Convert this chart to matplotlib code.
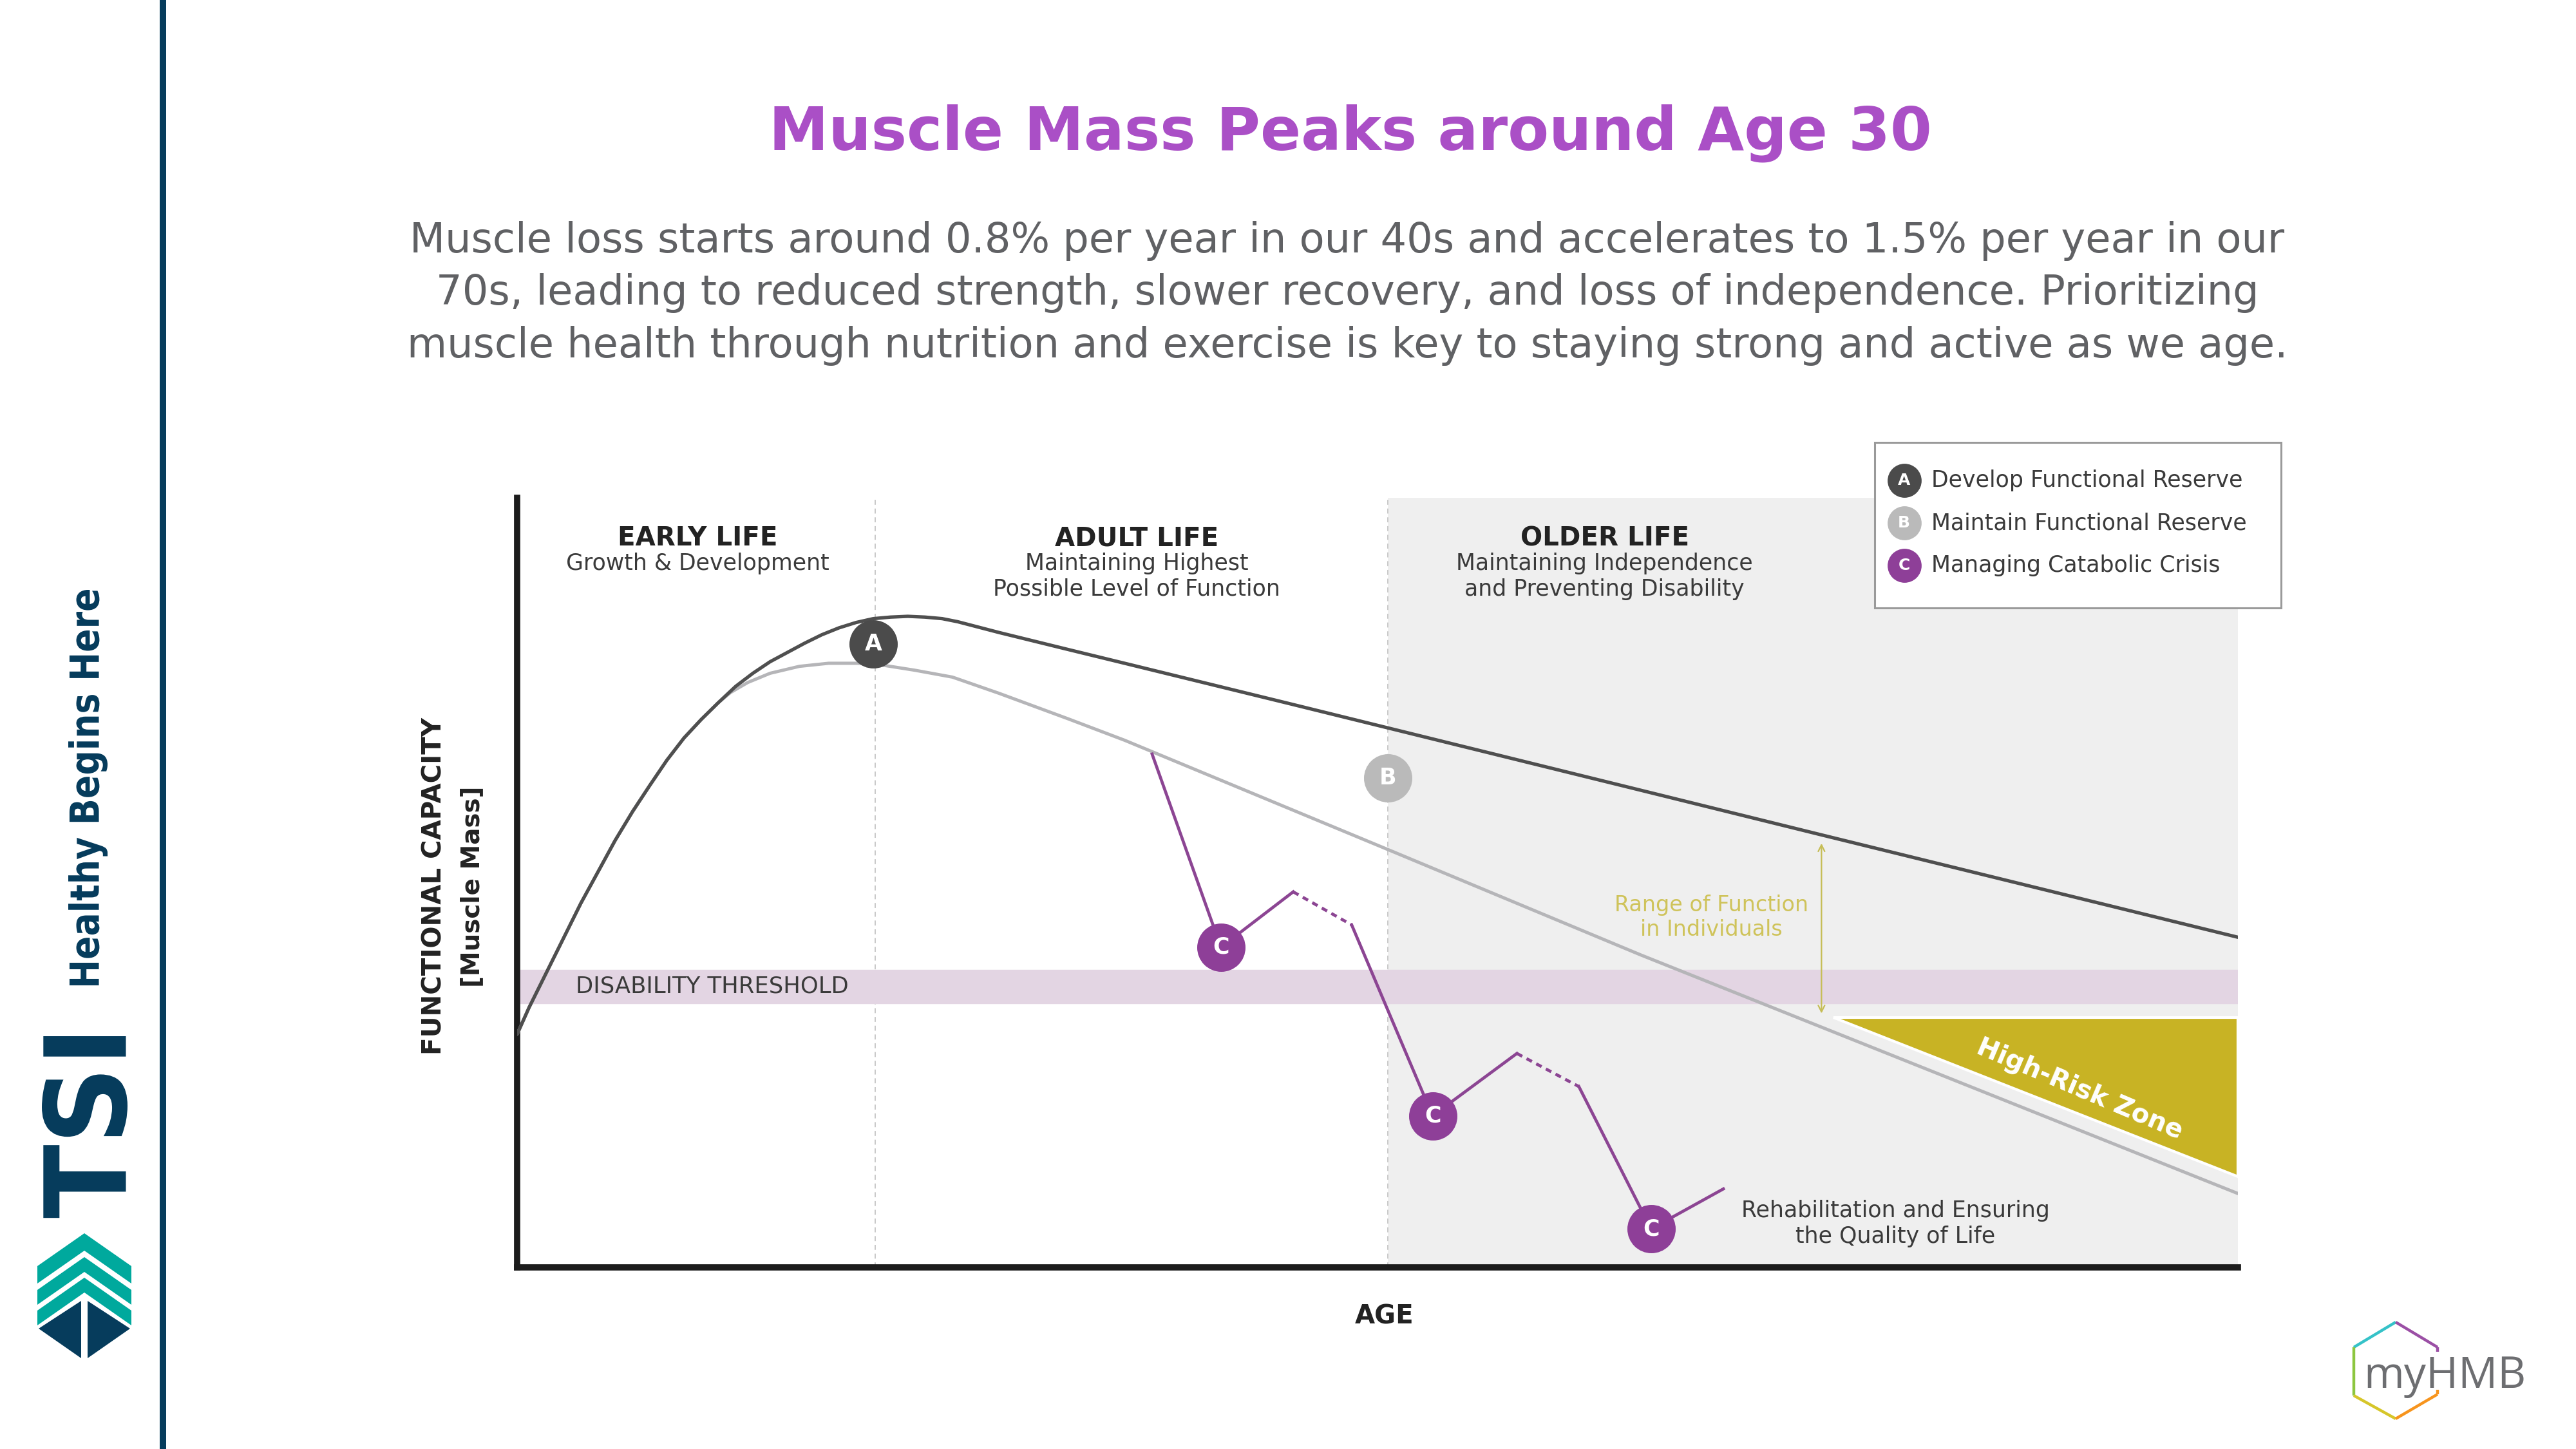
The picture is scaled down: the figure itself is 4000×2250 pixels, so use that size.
import numpy as np
import matplotlib
matplotlib.use("Agg")
import matplotlib.pyplot as plt
from matplotlib.patches import Polygon, Rectangle, PathPatch
from matplotlib.textpath import TextPath
from matplotlib.font_manager import FontProperties
from matplotlib.transforms import Affine2D
from matplotlib import font_manager as fm

# ---------------- data ----------------
title = "Muscle Mass Peaks around Age 30"
subtitle_lines = [
    "Muscle loss starts around 0.8% per year in our 40s and accelerates to 1.5% per year in our",
    "70s, leading to reduced strength, slower recovery, and loss of independence. Prioritizing",
    "muscle health through nutrition and exercise is key to staying strong and active as we age.",
]

stage_names = ["EARLY LIFE", "ADULT LIFE", "OLDER LIFE"]
stage_desc = ["Growth & Development",
              "Maintaining Highest\nPossible Level of Function",
              "Maintaining Independence\nand Preventing Disability"]
stage_center = [10.5, 36.0, 63.2]
stage_bounds = [20.8, 50.6]          # adult life starts, older life starts

# upper curve: develop / maintain functional reserve
reserve_age = [0.0, 0.7, 1.7, 2.7, 3.7, 4.7, 5.7, 6.7, 7.7, 8.7, 9.7, 10.7, 11.7, 12.7,
               13.7, 14.7, 15.7, 16.7, 17.7, 18.7, 19.7, 20.7, 21.7, 22.7, 23.7, 24.7,
               25.6, 28.0, 32.0, 35.3, 44.8, 65.3, 75.8, 100.0]
reserve_cap = [30.3, 33.8, 38.3, 42.8, 47.3, 51.4, 55.5, 59.2, 62.6, 65.9, 68.8, 71.2,
               73.4, 75.5, 77.2, 78.7, 79.9, 81.1, 82.2, 83.1, 83.8, 84.3, 84.5, 84.6,
               84.5, 84.3, 83.9, 82.5, 80.3, 78.5, 73.3, 62.0, 56.2, 42.9]

# lower curve: typical trajectory
typical_age = [0.0, 0.7, 1.7, 2.7, 3.7, 4.7, 5.7, 6.7, 7.7, 8.7, 9.7, 10.7, 11.7, 12.4,
               13.4, 14.7, 16.4, 18.1, 19.8, 21.4, 23.1, 25.3, 28.0, 32.0, 35.3, 50.6,
               65.3, 100.0]
typical_cap = [30.3, 33.8, 38.3, 42.8, 47.3, 51.4, 55.5, 59.2, 62.6, 65.9, 68.8, 71.2,
               73.4, 74.7, 76.0, 77.2, 78.1, 78.5, 78.5, 78.2, 77.6, 76.7, 74.6, 71.3,
               68.5, 54.3, 40.6, 9.6]

# catabolic crisis path
crisis_age = [36.9, 40.9, 45.1, 48.5, 53.2, 58.1, 61.7, 65.9, 70.1]
crisis_cap = [66.7, 41.6, 48.8, 44.5, 19.7, 27.8, 23.5, 5.0, 10.2]
crisis_seg_style = ["solid", "solid", "dotted", "solid", "solid", "dotted", "solid", "solid"]
crisis_event_idx = [1, 4, 7]

marker_A = (20.7, 81.0)
marker_B = (50.6, 63.6)

disability_band = (34.3, 38.7)
high_risk_age = [76.5, 100.0, 100.0]
high_risk_cap = [32.5, 32.5, 11.8]
range_arrow_age = 75.8
range_arrow_cap = (55.1, 33.0)

legend_letters = ["A", "B", "C"]
legend_labels = ["Develop Functional Reserve", "Maintain Functional Reserve", "Managing Catabolic Crisis"]

# ---------------- style ----------------
DARK = "#4f4f4f"
GRAY = "#b5b5b8"
PURPLE = "#8c4593"
PURPLE_C = "#8e3f98"
OLIVE = "#c8b324"
OLIVE_TXT = "#cfc35a"
BAND = "#e3d5e3"
SHADE = "#efefef"
NAVY = "#063c5c"
TEAL = "#00a99d"
TXT = "#3a3a3a"

names = {f.name for f in fm.fontManager.ttflist}
OPENSANS = "Open Sans" if "Open Sans" in names else "DejaVu Sans"
plt.rcParams["font.family"] = ["DejaVu Sans"]

W, H = 4000, 2250
fig = plt.figure(figsize=(40, 22.5), dpi=100)
fig.patch.set_facecolor("white")

# ---------------- chart axes ----------------
ax = fig.add_axes([803 / W, 1 - 1968 / H, (3475 - 803) / W, (1968 - 773) / H])
ax.set_xlim(0, 100)
ax.set_ylim(0, 100)
ax.set_facecolor("white")
for s in ["top", "right"]:
    ax.spines[s].set_visible(False)
for s in ["left", "bottom"]:
    ax.spines[s].set_linewidth(7)
    ax.spines[s].set_color("#1c1c1c")
ax.set_xticks([])
ax.set_yticks([])

# older-life shading
ax.add_patch(Rectangle((stage_bounds[1], 0), 100 - stage_bounds[1], 100, facecolor=SHADE,
                       edgecolor="none", zorder=0))
for b in stage_bounds:
    ax.plot([b, b], [0, 100], color="#c9c9c9", lw=1.4, ls=(0, (4, 3)), zorder=1)

# disability band
ax.axhspan(disability_band[0], disability_band[1], color=BAND, zorder=1)
ax.text(3.4, sum(disability_band) / 2, "DISABILITY THRESHOLD", fontsize=25.5, color=TXT,
        ha="left", va="center", zorder=2)

# high-risk zone
ax.add_patch(Polygon(list(zip(high_risk_age, high_risk_cap)), closed=True, facecolor=OLIVE,
                     edgecolor="white", lw=3, zorder=2))
ax.text(90.8, 23.1, "High-Risk Zone", rotation=-23, rotation_mode="anchor", ha="center",
        va="center", fontsize=29, fontweight="bold", color="white", zorder=6)

# curves
ax.plot(typical_age, typical_cap, color=GRAY, lw=3.6, solid_capstyle="round",
        solid_joinstyle="round", zorder=3)
ax.plot(reserve_age, reserve_cap, color=DARK, lw=3.8, solid_capstyle="round",
        solid_joinstyle="round", zorder=4)

# crisis path
for i, st in enumerate(crisis_seg_style):
    xs = crisis_age[i:i + 2]
    ys = crisis_cap[i:i + 2]
    ls = "-" if st == "solid" else (0, (2.0, 1.6))
    ax.plot(xs, ys, color=PURPLE, lw=3.4, ls=ls, zorder=5)

# range arrow
ax.annotate("", xy=(range_arrow_age, range_arrow_cap[1]), xytext=(range_arrow_age, range_arrow_cap[0]),
            arrowprops=dict(arrowstyle="<->", color="#c6bd55", lw=1.6, mutation_scale=18,
                            shrinkA=0, shrinkB=0), zorder=5)
ax.text(69.4, 45.5, "Range of Function\nin Individuals", color=OLIVE_TXT, fontsize=24,
        ha="center", va="center", linespacing=1.2, zorder=5)


def badge(x, y, letter, face, size=54, fs=25, z=8):
    ax.plot([x], [y], marker="o", ms=size, mfc=face, mec="none", zorder=z, clip_on=False)
    ax.text(x, y, letter, color="white", fontsize=fs, fontweight="bold", ha="center",
            va="center", zorder=z + 1, clip_on=False)


badge(marker_A[0], marker_A[1], "A", "#4b4b4b")
badge(marker_B[0], marker_B[1], "B", "#bababa")
for i in crisis_event_idx:
    badge(crisis_age[i], crisis_cap[i], "C", PURPLE_C)

# stage headers
for c, n, d in zip(stage_center, stage_names, stage_desc):
    ax.text(c, 94.7, n, ha="center", va="center", fontsize=29, fontweight="bold", color="#222222")
    ax.text(c, 92.9, d, ha="center", va="top", fontsize=25, color=TXT, linespacing=1.22)

ax.text(80.1, 5.7, "Rehabilitation and Ensuring\nthe Quality of Life", ha="center", va="center",
        fontsize=25, color=TXT, linespacing=1.25, zorder=6)

# axis labels
ax.text(-4.8, 49.5, "FUNCTIONAL CAPACITY", rotation=90, ha="center", va="center",
        fontsize=29, fontweight="bold", color="#222222", clip_on=False)
ax.text(-2.6, 49.5, "[Muscle Mass]", rotation=90, ha="center", va="center",
        fontsize=28, fontweight="bold", color="#222222", clip_on=False)
ax.text(50.4, -6.4, "AGE", ha="center", va="center", fontsize=29, fontweight="bold",
        color="#222222", clip_on=False)

# legend box
ax.add_patch(Rectangle((78.9, 85.7), 23.6, 21.5, facecolor="white", edgecolor="#9a9a9a",
                       lw=2.2, zorder=9, clip_on=False))
legend_y = [102.3, 96.7, 91.2]
legend_face = ["#4b4b4b", "#bababa", PURPLE_C]
for ly, let, lab, fc in zip(legend_y, legend_letters, legend_labels, legend_face):
    ax.plot([80.6], [ly], marker="o", ms=38, mfc=fc, mec="none", zorder=10, clip_on=False)
    ax.text(80.6, ly, let, color="white", fontsize=18, fontweight="bold", ha="center",
            va="center", zorder=11, clip_on=False)
    ax.text(82.2, ly, lab, color=TXT, fontsize=25, ha="left", va="center", zorder=11,
            clip_on=False)

# ---------------- page decorations (pixel space) ----------------
ov = fig.add_axes([0, 0, 1, 1])
ov.set_xlim(0, W)
ov.set_ylim(H, 0)
ov.axis("off")

ov.text(2097, 232, title, ha="center", va="baseline", fontsize=67, fontweight="bold",
        color="#aa4fc6")
for yb, line in zip([392, 473, 555], subtitle_lines):
    ov.text(2092, yb, line, ha="center", va="baseline", fontsize=46, color="#606164")


def vertical_word(s, x_left, x_right, y_top, y_bottom, color, weight="bold"):
    """Fit a text path, reading bottom-to-top, into a pixel box."""
    tp = TextPath((0, 0), s, size=1, prop=FontProperties(family="DejaVu Sans", weight=weight))
    v = tp.vertices
    umin, vmin = v.min(axis=0)
    umax, vmax = v.max(axis=0)
    su = (y_bottom - y_top) / (umax - umin)
    sv = (x_right - x_left) / (vmax - vmin)
    t = (Affine2D().translate(-umin, -vmin).scale(su, sv)
         + Affine2D(np.array([[0.0, -1.0, x_right], [-1.0, 0.0, y_bottom], [0.0, 0.0, 1.0]])))
    ov.add_patch(PathPatch(t.transform_path(tp), facecolor=color, edgecolor="none"))


# left brand bar
ov.add_patch(Rectangle((248, 0), 10, H, facecolor=NAVY, edgecolor="none"))
vertical_word("Healthy Begins Here", 106, 167, 916, 1535, NAVY)
vertical_word("TSI", 65, 198, 1609, 1892, NAVY)
# chevron mark
bands = [((1966, 1915), (1993, 1942)), ((2003, 1952), (2026, 1975)), ((2035, 1984), (2058, 2007))]
for (tl, ta), (bl, ba) in bands:
    ov.add_patch(Polygon([(58, tl), (131, ta), (204, tl), (204, bl), (131, ba), (58, bl)],
                         closed=True, facecolor=TEAL, edgecolor="none"))
ov.add_patch(Polygon([(60, 2063), (126, 2020), (126, 2109)], closed=True, facecolor=NAVY,
                     edgecolor="none"))
ov.add_patch(Polygon([(136, 2020), (136, 2109), (202, 2063)], closed=True, facecolor=NAVY,
                     edgecolor="none"))

# myHMB logo
hex_edges = [((3655, 2092), (3720, 2053), "#35c2c8"),
             ((3720, 2053), (3785, 2092), "#9b4fa5"),
             ((3785, 2092), (3785, 2099), "#9b4fa5"),
             ((3655, 2092), (3655, 2167), "#8cc63f"),
             ((3655, 2167), (3720, 2203), "#d6c62a"),
             ((3720, 2203), (3785, 2165), "#f7941d"),
             ((3785, 2165), (3785, 2158), "#f7941d")]
for (x0, y0), (x1, y1), c in hex_edges:
    ov.plot([x0, x1], [y0, y1], color=c, lw=3.2, solid_capstyle="butt")
ov.text(3670, 2155, "myHMB", ha="left", va="baseline", fontsize=49, color="#6d6e71",
        family=OPENSANS)

fig.savefig("out.png", dpi=100, facecolor="white")
